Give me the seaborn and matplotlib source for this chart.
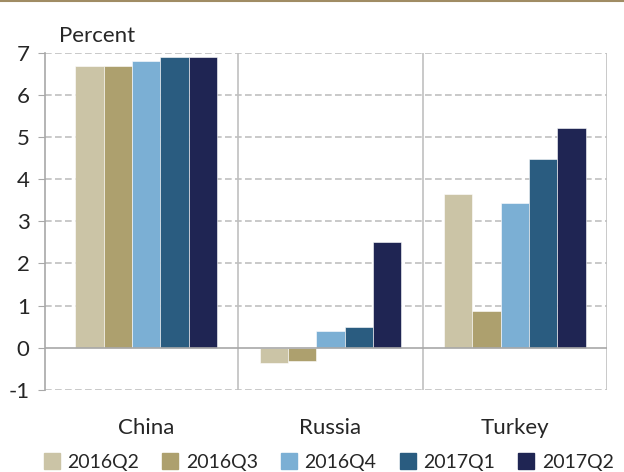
import pandas as pd
import matplotlib.pyplot as plt
import seaborn as sns
from matplotlib.lines import Line2D

# Chart data
countries = ["China", "Russia", "Turkey"]
quarters = ["2016Q2", "2016Q3", "2016Q4", "2017Q1", "2017Q2"]
china = [6.7, 6.7, 6.8, 6.9, 6.9]
russia = [-0.36, -0.32, 0.4, 0.49, 2.5]
turkey = [3.66, 0.88, 3.43, 4.48, 5.21]
colors = ["#CBC4A6", "#ADA06E", "#7BAFD4", "#2A5C80", "#1F2553"]

rows = []
for country, vals in zip(countries, [china, russia, turkey]):
    for q, v in zip(quarters, vals):
        rows.append({"Country": country, "Quarter": q, "Value": v})
df = pd.DataFrame(rows)

sns.set_style("white")
plt.rcParams["font.family"] = ["Lato", "DejaVu Sans"]

fig = plt.figure(figsize=(6.24, 4.72), dpi=100)
ax = fig.add_axes([0.072, 0.174, 0.9006, 0.714])

sns.barplot(data=df, x="Country", y="Value", hue="Quarter", hue_order=quarters,
            palette=colors, width=0.77, saturation=1, ax=ax,
            edgecolor="white", linewidth=0.4)

ax.set_ylim(-1, 7)
ax.set_xlim(-0.55, 2.5)
ax.set_yticks(range(-1, 8))
ax.set_yticklabels([str(i) for i in range(-1, 8)])

# Dashed horizontal grid
for y in range(-1, 8):
    if y != 0:
        ax.axhline(y, color="#C0C0C0", linestyle=(0, (4, 2)), linewidth=1.2, zorder=0)
ax.axhline(0, color="#A8A8A8", linewidth=1.2, zorder=3)

# Category separators
for x in [0.5, 1.5, 2.5]:
    ax.axvline(x, color="#C0C0C0", linewidth=1.2, zorder=0)

for s in ["top", "right", "bottom"]:
    ax.spines[s].set_visible(False)
ax.spines["left"].set_color("#A8A8A8")
ax.spines["left"].set_linewidth(1.2)

ax.tick_params(axis="y", which="both", left=True, length=5, color="#A8A8A8",
               labelsize=16, pad=6)
ax.tick_params(axis="x", length=0, labelsize=16, pad=20)
ax.set_xlabel("")
ax.set_ylabel("")

fig.text(0.095, 0.911, "Percent", fontsize=16, va="baseline")

# Legend at bottom
ax.get_legend().remove()
leg_handles = [Line2D([0], [0], marker="s", linestyle="", markersize=11,
                      markerfacecolor=c, markeredgecolor=c) for c in colors]
fig.legend(leg_handles, quarters, loc="lower center", ncol=5, frameon=False,
           fontsize=14, bbox_to_anchor=(0.527, -0.035), handletextpad=0.4,
           columnspacing=1.2, handlelength=0.8)

# Top rule
fig.add_artist(Line2D([0, 1], [0.997, 0.997], color="#A08C64", linewidth=1.5))

fig.savefig("out.png", dpi=100)
